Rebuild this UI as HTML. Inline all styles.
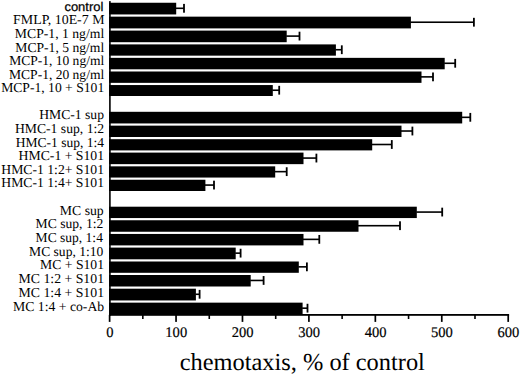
<!DOCTYPE html>
<html><head><meta charset="utf-8"><style>
html,body{margin:0;padding:0;background:#fff;}
body{width:520px;height:374px;overflow:hidden;}
svg{display:block;}
text{text-rendering:geometricPrecision;fill:#000;stroke:#000;stroke-width:0.0px;}
.t{font-family:"Liberation Serif",serif;font-size:13.6px;text-anchor:end;}
.s{font-family:"Liberation Sans",sans-serif;font-size:12.7px;text-anchor:end;stroke-width:0.25px;}
.n{font-family:"Liberation Serif",serif;font-size:14.7px;text-anchor:middle;stroke-width:0.2px;}
.ttl{font-family:"Liberation Serif",serif;font-size:24.4px;}
</style></head><body>
<svg width="520" height="374" viewBox="0 0 520 374">
<rect width="520" height="374" fill="#fff"/>
<g fill="#000">
<rect x="109.1" y="2.75" width="67.10" height="11.70"/>
<rect x="175.70" y="7.50" width="8.30" height="1.6"/>
<rect x="183.10" y="3.90" width="1.8" height="8.8"/>
<text class="s" transform="translate(103.43 10.65) scale(1.0250 1)">control</text>
<rect x="109.1" y="16.65" width="301.80" height="11.75"/>
<rect x="410.40" y="21.42" width="63.50" height="1.6"/>
<rect x="473.00" y="17.82" width="1.8" height="8.8"/>
<text class="t" transform="translate(104.52 24.05) scale(1.0216 1)">FMLP, 10E-7 M</text>
<rect x="109.1" y="30.60" width="177.60" height="11.60"/>
<rect x="286.20" y="35.30" width="13.30" height="1.6"/>
<rect x="298.60" y="31.70" width="1.8" height="8.8"/>
<text class="t" transform="translate(104.21 38.00) scale(1.0069 1)">MCP-1, 1 ng/ml</text>
<rect x="109.1" y="44.40" width="226.80" height="11.25"/>
<rect x="335.40" y="48.93" width="6.40" height="1.6"/>
<rect x="340.90" y="45.33" width="1.8" height="8.8"/>
<text class="t" transform="translate(104.20 51.80) scale(1.0011 1)">MCP-1, 5 ng/ml</text>
<rect x="109.1" y="57.85" width="335.60" height="11.45"/>
<rect x="444.20" y="62.48" width="11.00" height="1.6"/>
<rect x="454.30" y="58.88" width="1.8" height="8.8"/>
<text class="t" transform="translate(104.19 65.25) scale(0.9947 1)">MCP-1, 10 ng/ml</text>
<rect x="109.1" y="71.50" width="312.40" height="11.35"/>
<rect x="421.00" y="76.08" width="12.00" height="1.6"/>
<rect x="432.10" y="72.48" width="1.8" height="8.8"/>
<text class="t" transform="translate(104.20 78.90) scale(0.9957 1)">MCP-1, 20 ng/ml</text>
<rect x="109.1" y="85.05" width="163.70" height="10.95"/>
<rect x="272.30" y="89.43" width="6.90" height="1.6"/>
<rect x="278.30" y="85.83" width="1.8" height="8.8"/>
<text class="t" transform="translate(104.20 92.45) scale(1.0020 1)">MCP-1, 10 + S101</text>
<rect x="109.1" y="111.80" width="353.10" height="11.65"/>
<rect x="461.70" y="116.53" width="8.60" height="1.6"/>
<rect x="469.40" y="112.92" width="1.8" height="8.8"/>
<text class="t" transform="translate(104.00 119.30) scale(1.0031 1)">HMC-1 sup</text>
<rect x="109.1" y="125.65" width="292.40" height="11.35"/>
<rect x="401.00" y="130.22" width="11.40" height="1.6"/>
<rect x="411.50" y="126.62" width="1.8" height="8.8"/>
<text class="t" transform="translate(104.10 133.15) scale(1.0046 1)">HMC-1 sup, 1:2</text>
<rect x="109.1" y="139.20" width="263.10" height="11.20"/>
<rect x="371.70" y="143.70" width="20.10" height="1.6"/>
<rect x="390.90" y="140.10" width="1.8" height="8.8"/>
<text class="t" transform="translate(104.00 146.70) scale(0.9955 1)">HMC-1 sup, 1:4</text>
<rect x="109.1" y="152.60" width="194.40" height="11.55"/>
<rect x="303.00" y="157.27" width="13.40" height="1.6"/>
<rect x="315.50" y="153.67" width="1.8" height="8.8"/>
<text class="t" transform="translate(104.02 160.10) scale(1.0085 1)">HMC-1 + S101</text>
<rect x="109.1" y="166.35" width="166.10" height="11.20"/>
<rect x="274.70" y="170.85" width="12.00" height="1.6"/>
<rect x="285.80" y="167.25" width="1.8" height="8.8"/>
<text class="t" transform="translate(104.01 173.85) scale(1.0061 1)">HMC-1 1:2+ S101</text>
<rect x="109.1" y="179.75" width="96.30" height="11.25"/>
<rect x="204.90" y="184.27" width="9.10" height="1.6"/>
<rect x="213.10" y="180.67" width="1.8" height="8.8"/>
<text class="t" transform="translate(104.01 187.25) scale(1.0061 1)">HMC-1 1:4+ S101</text>
<rect x="109.1" y="206.70" width="307.70" height="11.35"/>
<rect x="416.30" y="211.27" width="25.90" height="1.6"/>
<rect x="441.30" y="207.67" width="1.8" height="8.8"/>
<text class="t" transform="translate(103.70 214.60) scale(1.0093 1)">MC sup</text>
<rect x="109.1" y="220.25" width="249.40" height="11.50"/>
<rect x="358.00" y="224.90" width="42.00" height="1.6"/>
<rect x="399.10" y="221.30" width="1.8" height="8.8"/>
<text class="t" transform="translate(103.30 228.15) scale(1.0015 1)">MC sup, 1:2</text>
<rect x="109.1" y="233.95" width="194.40" height="11.45"/>
<rect x="303.00" y="238.57" width="16.30" height="1.6"/>
<rect x="318.40" y="234.97" width="1.8" height="8.8"/>
<text class="t" transform="translate(102.90 241.85) scale(0.9955 1)">MC sup, 1:4</text>
<rect x="109.1" y="247.60" width="126.60" height="11.70"/>
<rect x="235.20" y="252.35" width="5.40" height="1.6"/>
<rect x="239.70" y="248.75" width="1.8" height="8.8"/>
<text class="t" transform="translate(103.30 255.50) scale(0.9973 1)">MC sup, 1:10</text>
<rect x="109.1" y="261.50" width="189.70" height="11.30"/>
<rect x="298.30" y="266.05" width="8.60" height="1.6"/>
<rect x="306.00" y="262.45" width="1.8" height="8.8"/>
<text class="t" transform="translate(104.01 269.40) scale(1.0049 1)">MC + S101</text>
<rect x="109.1" y="275.00" width="141.60" height="11.50"/>
<rect x="250.20" y="279.65" width="13.40" height="1.6"/>
<rect x="262.70" y="276.05" width="1.8" height="8.8"/>
<text class="t" transform="translate(104.03 282.90) scale(1.0136 1)">MC 1:2 + S101</text>
<rect x="109.1" y="288.70" width="86.80" height="11.75"/>
<rect x="195.40" y="293.48" width="4.20" height="1.6"/>
<rect x="198.70" y="289.88" width="1.8" height="8.8"/>
<text class="t" transform="translate(104.03 296.60) scale(1.0136 1)">MC 1:4 + S101</text>
<rect x="109.1" y="302.65" width="193.50" height="11.65"/>
<rect x="302.10" y="307.38" width="5.40" height="1.6"/>
<rect x="306.60" y="303.78" width="1.8" height="8.8"/>
<text class="t" transform="translate(104.20 310.55) scale(1.0090 1)">MC 1:4 + co-Ab</text>
<rect x="109.1" y="1.1" width="1.6" height="314.70"/>
<rect x="109.1" y="314.00" width="400.00" height="1.8"/>
<rect x="108.77" y="314.90" width="1.7" height="7.00"/>
<text class="n" transform="translate(109.82 337.0) scale(0.99 1)">0</text>
<rect x="142.03" y="314.90" width="1.6" height="4.10"/>
<rect x="175.20" y="314.90" width="1.7" height="7.00"/>
<text class="n" transform="translate(176.25 337.0) scale(0.99 1)">100</text>
<rect x="208.47" y="314.90" width="1.6" height="4.10"/>
<rect x="241.63" y="314.90" width="1.7" height="7.00"/>
<text class="n" transform="translate(242.68 337.0) scale(0.99 1)">200</text>
<rect x="274.90" y="314.90" width="1.6" height="4.10"/>
<rect x="308.06" y="314.90" width="1.7" height="7.00"/>
<text class="n" transform="translate(309.11 337.0) scale(0.99 1)">300</text>
<rect x="341.32" y="314.90" width="1.6" height="4.10"/>
<rect x="374.49" y="314.90" width="1.7" height="7.00"/>
<text class="n" transform="translate(375.54 337.0) scale(0.99 1)">400</text>
<rect x="407.76" y="314.90" width="1.6" height="4.10"/>
<rect x="440.92" y="314.90" width="1.7" height="7.00"/>
<text class="n" transform="translate(441.97 337.0) scale(0.99 1)">500</text>
<rect x="474.19" y="314.90" width="1.6" height="4.10"/>
<rect x="507.35" y="314.90" width="1.7" height="7.00"/>
<text class="n" transform="translate(508.40 337.0) scale(0.99 1)">600</text>
<text class="ttl" x="179.7" y="370.2">chemotaxis, % of control</text>
</g>
</svg>
</body></html>
